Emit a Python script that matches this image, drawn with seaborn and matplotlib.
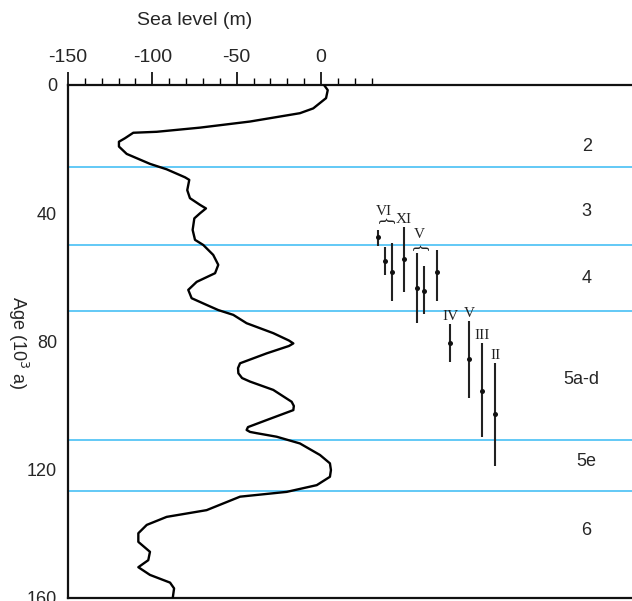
import numpy as np
import pandas as pd
import matplotlib
matplotlib.use("Agg")
import matplotlib.pyplot as plt
import seaborn as sns

# sea level curve (m) against age (ka)
curve_age = [0, 1.6, 4.1, 7.3, 8.8, 11.4, 13.3, 14.6, 14.9, 16.6, 17.7, 19.2, 21.5, 24.6,
             26.3, 28.8, 29.6, 32.8, 35.3, 37.4, 38.5, 40.0, 41.6, 45.2, 48.3, 49.9, 53.0,
             56.1, 58.7, 61.4, 63.9, 66.5, 68.6, 70.2, 71.7, 74.3, 77.4, 79.7, 80.6, 81.4,
             83.7, 86.8, 88.3, 89.9, 91.4, 92.5, 95.1, 98.8, 100.1, 101.4, 104.5, 106.7,
             107.6, 108.2, 108.6, 109.7, 111.8, 115.4, 118.0, 120.1, 122.2, 124.8, 126.9,
             128.4, 132.6, 134.7, 137.2, 139.8, 142.5, 145.6, 148.2, 150.4, 152.8, 155.2,
             157.0, 160.0]
curve_sl = [1.8, 4.0, 3.0, -4.6, -12.5, -42.1, -71.7, -97.4, -111.3, -116.2, -119.8, -119.8,
            -115.2, -101.4, -91.5, -80.6, -78.1, -79.3, -77.7, -71.7, -68.2, -71.7, -75.1,
            -76.1, -74.7, -69.8, -63.9, -60.9, -62.8, -73.7, -78.7, -76.7, -67.8, -60.9,
            -52.0, -44.1, -28.3, -19.0, -16.4, -19.0, -32.2, -48.0, -49.2, -49.0, -46.8,
            -42.1, -28.3, -17.4, -16.1, -16.4, -32.2, -43.3, -44.1, -42.1, -38.1, -26.3,
            -12.5, -0.6, 5.3, 5.9, 5.3, -2.5, -20.3, -48.0, -67.8, -91.5, -103.3, -108.3,
            -108.3, -101.4, -102.4, -108.3, -101.4, -89.5, -87.1, -87.9]

# dated samples: position, age and age range
sample_sl = [34.0, 37.9, 41.9, 49.4, 57.1, 61.1, 69.0, 76.5, 87.9, 95.5, 103.4]
sample_age = [47.3, 54.8, 58.2, 54.3, 63.2, 64.3, 58.4, 80.4, 85.6, 95.4, 102.7]
sample_lo = [45.2, 50.4, 49.4, 44.4, 52.3, 56.5, 51.5, 74.6, 73.5, 80.6, 86.6]
sample_hi = [50.2, 59.3, 67.4, 64.5, 74.2, 71.4, 67.4, 86.5, 97.7, 109.7, 118.8]

sample_names = ["VI", "XI", "V", "IV", "V", "III", "II"]
name_sl = [37.4, 48.8, 58.1, 76.9, 87.9, 95.3, 103.2]
name_age = [39.5, 41.9, 46.6, 72.1, 71.2, 78.0, 84.5]

# marine isotope stages
mis_bounds = [25.5, 50.0, 70.5, 110.7, 126.7]
mis_names = ["2", "3", "4", "5a-d", "5e", "6"]
mis_age = [19.2, 39.5, 60.3, 92.0, 117.5, 138.8]
mis_sl = [157.5, 157.5, 157.5, 154.5, 157.5, 157.5]

sns.set_style("white")
plt.rcParams['font.family'] = ['Liberation Sans', 'DejaVu Sans']
plt.rcParams['axes.unicode_minus'] = False

fig = plt.figure(figsize=(6.32, 6.01), dpi=100)
ax = fig.add_axes([0.1076, 0.005, 0.8924, 0.8536])

for b in mis_bounds:
    ax.axhline(b, color="#62C9F6", lw=1.4, zorder=1)

curve = pd.DataFrame({"sl": curve_sl, "age": curve_age})
sns.lineplot(data=curve, x="sl", y="age", sort=False, estimator=None, orient="y",
             color="black", lw=1.7, ax=ax, zorder=3, solid_joinstyle="round")

sa = np.array(sample_age)
yerr = [sa - np.array(sample_lo), np.array(sample_hi) - sa]
ax.errorbar(sample_sl, sample_age, yerr=yerr, fmt="none", ecolor="#222222",
            elinewidth=1.5, capsize=0, zorder=3)
sns.scatterplot(x=sample_sl, y=sample_age, color="#111111", s=13, linewidth=0, ax=ax, zorder=4)

serif = ["Liberation Serif", "DejaVu Serif"]
for name, x, y in zip(sample_names, name_sl, name_age):
    ax.text(x, y, name, ha="center", va="center", fontsize=11, family=serif, color="#222222")
# braces grouping samples
for x, y in [(37.7, 42.6), (58.2, 50.8)]:
    ax.text(x, y, "{", rotation=-90, ha="center", va="center", fontsize=13,
            family=serif, color="#222222")

for name, x, y in zip(mis_names, mis_sl, mis_age):
    ax.text(x, y, name, ha="center", va="center", fontsize=13)

ax.set_xlim(-150, 184.4)
ax.set_ylim(160, 0)
ax.xaxis.set_ticks_position("top")
ax.set_xticks([-150, -100, -50, 0])
ax.set_xticks(np.arange(-150, 31, 10), minor=True)
ax.tick_params(axis="x", which="major", direction="out", length=9.5, width=1.2,
               labelsize=14, pad=4, color="black")
ax.tick_params(axis="x", which="minor", direction="out", length=5, width=1.0, color="black")
ax.set_yticks([0, 40, 80, 120, 160])
ax.tick_params(axis="y", length=0, labelsize=13, pad=8)
ax.set_xlabel("")
ax.set_ylabel("")
fig.text(18 / 632, 1 - 343 / 601, "Age (10$^3$ a)", rotation=-90, ha="center", va="center",
         fontsize=13)
ax.text(-75, 1.125, "Sea level (m)", transform=ax.get_xaxis_transform(),
        ha="center", va="center", fontsize=14)

for side in ["left", "top", "bottom"]:
    ax.spines[side].set_color("#111111")
    ax.spines[side].set_linewidth(1.6)
ax.spines["right"].set_visible(False)

fig.savefig("out.png", dpi=100)
